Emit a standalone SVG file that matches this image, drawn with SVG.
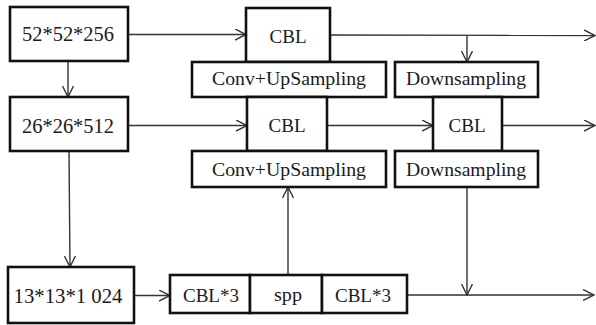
<svg xmlns="http://www.w3.org/2000/svg" width="596" height="325" viewBox="0 0 596 325">
  <style>
    .box { fill: #fff; stroke: #111; stroke-width: 2.6; }
    .lbl { font-size: 19px; fill: #1a1a1a; text-anchor: middle; }
    .dim { font-size: 20px; }
    .wire { fill: none; stroke: #333; stroke-width: 1.4; }
  </style>
  <defs>
    <marker id="arr" viewBox="0 0 12 12" refX="11" refY="6" markerWidth="12" markerHeight="12" markerUnits="userSpaceOnUse" orient="auto">
      <path d="M0,0.5 L11,6 L0,11.5" fill="none" stroke="#333" stroke-width="1.4"/>
    </marker>
  </defs>

  <!-- connectors -->
  <g id="connectors">
    <path class="wire" d="M128,34.5 L246,34.5" marker-end="url(#arr)"/>
    <path class="wire" d="M330,35 L595,35.5" marker-end="url(#arr)"/>
    <path class="wire" d="M467,35.5 L467,62" marker-end="url(#arr)"/>
    <path class="wire" d="M68,61 L68,97" marker-end="url(#arr)"/>
    <path class="wire" d="M128,125.5 L247,125.5" marker-end="url(#arr)"/>
    <path class="wire" d="M327,125.5 L433,125.5" marker-end="url(#arr)"/>
    <path class="wire" d="M502,125.5 L595,125.5" marker-end="url(#arr)"/>
    <path class="wire" d="M69,151 L70,267" marker-end="url(#arr)"/>
    <path class="wire" d="M134,295.5 L170,295.5" marker-end="url(#arr)"/>
    <path class="wire" d="M288,275 L288,187" marker-end="url(#arr)"/>
    <path class="wire" d="M467,187 L467,295" marker-end="url(#arr)"/>
    <path class="wire" d="M407,295 L594,295" marker-end="url(#arr)"/>
  </g>

  <g font-family="Liberation Serif, Tinos, Times New Roman, Times, DejaVu Serif, Noto Serif, FreeSerif, Nimbus Roman, Georgia, serif">
  <!-- feature map inputs -->
  <g id="in52">
    <rect class="box" x="10" y="7" width="118" height="54"/>
    <text class="lbl dim" x="68" y="41" textLength="92" lengthAdjust="spacingAndGlyphs">52*52*256</text>
  </g>
  <g id="in26">
    <rect class="box" x="10" y="97" width="118" height="54"/>
    <text class="lbl dim" x="68" y="133" textLength="92" lengthAdjust="spacingAndGlyphs">26*26*512</text>
  </g>
  <g id="in13">
    <rect class="box" x="8" y="267" width="126" height="56"/>
    <text class="lbl dim" x="68" y="303" textLength="109" lengthAdjust="spacingAndGlyphs">13*13*1 024</text>
  </g>

  <!-- upsampling path -->
  <g id="cbl-top">
    <rect class="box" x="246" y="8" width="84" height="54"/>
    <text class="lbl" x="288" y="43" textLength="37" lengthAdjust="spacingAndGlyphs">CBL</text>
  </g>
  <g id="up1">
    <rect class="box" x="192" y="62" width="194" height="35"/>
    <text class="lbl" x="289" y="85" textLength="154" lengthAdjust="spacingAndGlyphs">Conv+UpSampling</text>
  </g>
  <g id="cbl-mid">
    <rect class="box" x="247" y="97" width="80" height="54"/>
    <text class="lbl" x="287" y="132" textLength="37" lengthAdjust="spacingAndGlyphs">CBL</text>
  </g>
  <g id="up2">
    <rect class="box" x="192" y="151" width="194" height="36"/>
    <text class="lbl" x="289" y="176" textLength="154" lengthAdjust="spacingAndGlyphs">Conv+UpSampling</text>
  </g>

  <!-- downsampling path -->
  <g id="down1">
    <rect class="box" x="395" y="62" width="143" height="35"/>
    <text class="lbl" x="466" y="85" textLength="120" lengthAdjust="spacingAndGlyphs">Downsampling</text>
  </g>
  <g id="cbl-right">
    <rect class="box" x="433" y="97" width="69" height="54"/>
    <text class="lbl" x="467" y="132" textLength="37" lengthAdjust="spacingAndGlyphs">CBL</text>
  </g>
  <g id="down2">
    <rect class="box" x="395" y="151" width="143" height="36"/>
    <text class="lbl" x="466" y="176" textLength="120" lengthAdjust="spacingAndGlyphs">Downsampling</text>
  </g>

  <!-- deepest branch: CBL*3, spp, CBL*3 -->
  <g id="cbl3a">
    <rect class="box" x="170" y="275" width="80" height="38"/>
    <text class="lbl" x="211" y="302" textLength="56" lengthAdjust="spacingAndGlyphs">CBL*3</text>
  </g>
  <g id="spp">
    <rect class="box" x="250" y="275" width="72" height="38"/>
    <text class="lbl" x="288" y="301" textLength="28" lengthAdjust="spacingAndGlyphs">spp</text>
  </g>
  <g id="cbl3b">
    <rect class="box" x="322" y="275" width="85" height="38"/>
    <text class="lbl" x="363" y="302" textLength="56" lengthAdjust="spacingAndGlyphs">CBL*3</text>
  </g>
  </g>
</svg>
